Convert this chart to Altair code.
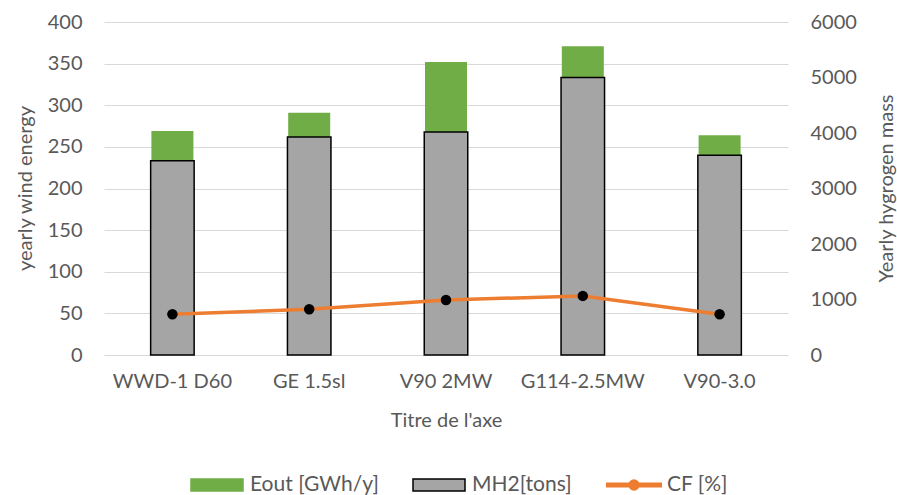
import altair as alt
import pandas as pd

# Turbine models and their yearly figures
categories = ["WWD-1 D60", "GE 1.5sl", "V90 2MW", "G114-2.5MW", "V90-3.0"]
eout_gwh = [269, 291, 352, 371, 264]        # Eout [GWh/y], left axis
mh2_tons = [3500, 3930, 4020, 5000, 3600]   # MH2 [tons], right axis
cf_pct = [49, 55, 66, 71, 49]               # CF [%], left axis scale

series_names = ["Eout [GWh/y]", "MH2[tons]", "CF [%]"]
series_fill = ["#70ad47", "#a5a5a5", "#ed7d31"]
series_stroke = ["#70ad47", "#000000", "#ed7d31"]
series_shape = [
    "M-1,-0.23H1V0.23H-1Z",
    "M-1,-0.23H1V0.23H-1Z",
    "M-1.05,-0.07H1.05V0.07H-1.05Z M0.19,0A0.19,0.19,0,1,1,-0.19,0A0.19,0.19,0,1,1,0.19,0Z",
]

df = pd.DataFrame({"model": categories, "eout": eout_gwh, "mh2": mh2_tons, "cf": cf_pct})
legend_df = pd.DataFrame({"series": series_names})

TEXT = "#595959"
FONT = "Lato"

x_enc = alt.X(
    "model:N",
    sort=categories,
    scale=alt.Scale(paddingInner=0, paddingOuter=0),
    axis=alt.Axis(
        title="Titre de l'axe",
        labelAngle=0,
        labelPadding=26,
        labelBaseline="middle",
        titleY=65,
        titleBaseline="middle",
        domain=False,
        ticks=False,
        grid=False,
    ),
)

base = alt.Chart(df)

eout_bars = base.mark_bar(color="#70ad47", size=42).encode(
    x=x_enc,
    y=alt.Y(
        "eout:Q",
        scale=alt.Scale(domain=[0, 400], nice=False),
        axis=alt.Axis(
            title="yearly wind energy",
            orient="left",
            values=list(range(0, 401, 50)),
            format="d",
            labelPadding=22,
            titleX=-79,
            titleY=166,
            titleAngle=-90,
            titleAlign="center",
            titleBaseline="middle",
            grid=True,
            gridColor="#d9d9d9",
            gridWidth=1,
            domain=False,
            ticks=False,
        ),
    ),
)

mh2_bars = base.mark_bar(
    color="#a5a5a5", stroke="#000000", strokeWidth=1.5, size=43.5
).encode(
    x=x_enc,
    y=alt.Y(
        "mh2:Q",
        scale=alt.Scale(domain=[0, 6000], nice=False),
        axis=alt.Axis(
            title="Yearly hygrogen mass",
            orient="right",
            values=list(range(0, 6001, 1000)),
            format="d",
            labelPadding=22,
            titleX=98,
            titleY=166,
            titleAngle=-90,
            titleAlign="center",
            titleBaseline="middle",
            grid=False,
            domain=False,
            ticks=False,
        ),
    ),
)

cf_y = alt.Y("cf:Q", scale=alt.Scale(domain=[0, 400], nice=False), axis=None)
cf_line = base.mark_line(color="#ed7d31", strokeWidth=3.5).encode(x=x_enc, y=cf_y)
cf_points = base.mark_point(
    filled=True, color="#000000", size=110, opacity=1
).encode(x=x_enc, y=cf_y)
cf_layer = alt.layer(cf_line, cf_points)

# Legend-only layer: no rows drawn, the scales carry the entries
legend_layer = (
    alt.Chart(legend_df)
    .transform_filter("false")
    .mark_point(filled=True, opacity=1)
    .encode(
        color=alt.Color(
            "series:N",
            scale=alt.Scale(domain=series_names, range=series_fill),
            legend=alt.Legend(
                title=None,
                orient="none",
                direction="horizontal",
                legendX=86,
                legendY=436,
                symbolSize=2704,
                symbolStrokeWidth=1.5,
                labelOffset=6,
                columnPadding=31,
                labelFontSize=21,
                labelColor=TEXT,
                labelFont=FONT,
            ),
        ),
        shape=alt.Shape(
            "series:N",
            scale=alt.Scale(domain=series_names, range=series_shape),
        ),
        stroke=alt.Stroke(
            "series:N",
            scale=alt.Scale(domain=series_names, range=series_stroke),
        ),
    )
)

chart = (
    alt.layer(eout_bars, mh2_bars, cf_layer, legend_layer)
    .resolve_scale(y="independent")
    .properties(
        width=684,
        height=333,
        autosize=alt.AutoSizeParams(type="none"),
        padding={"left": 104, "top": 22, "right": 109, "bottom": 140},
        background="#ffffff",
    )
    .configure_view(stroke=None)
    .configure_axis(
        labelFont=FONT,
        titleFont=FONT,
        labelFontSize=20,
        titleFontSize=20,
        labelColor=TEXT,
        titleColor=TEXT,
        titleFontWeight="normal",
        tickSize=0,
    )
)

chart.save("out.html", embed_options={"renderer": "svg", "actions": False})
